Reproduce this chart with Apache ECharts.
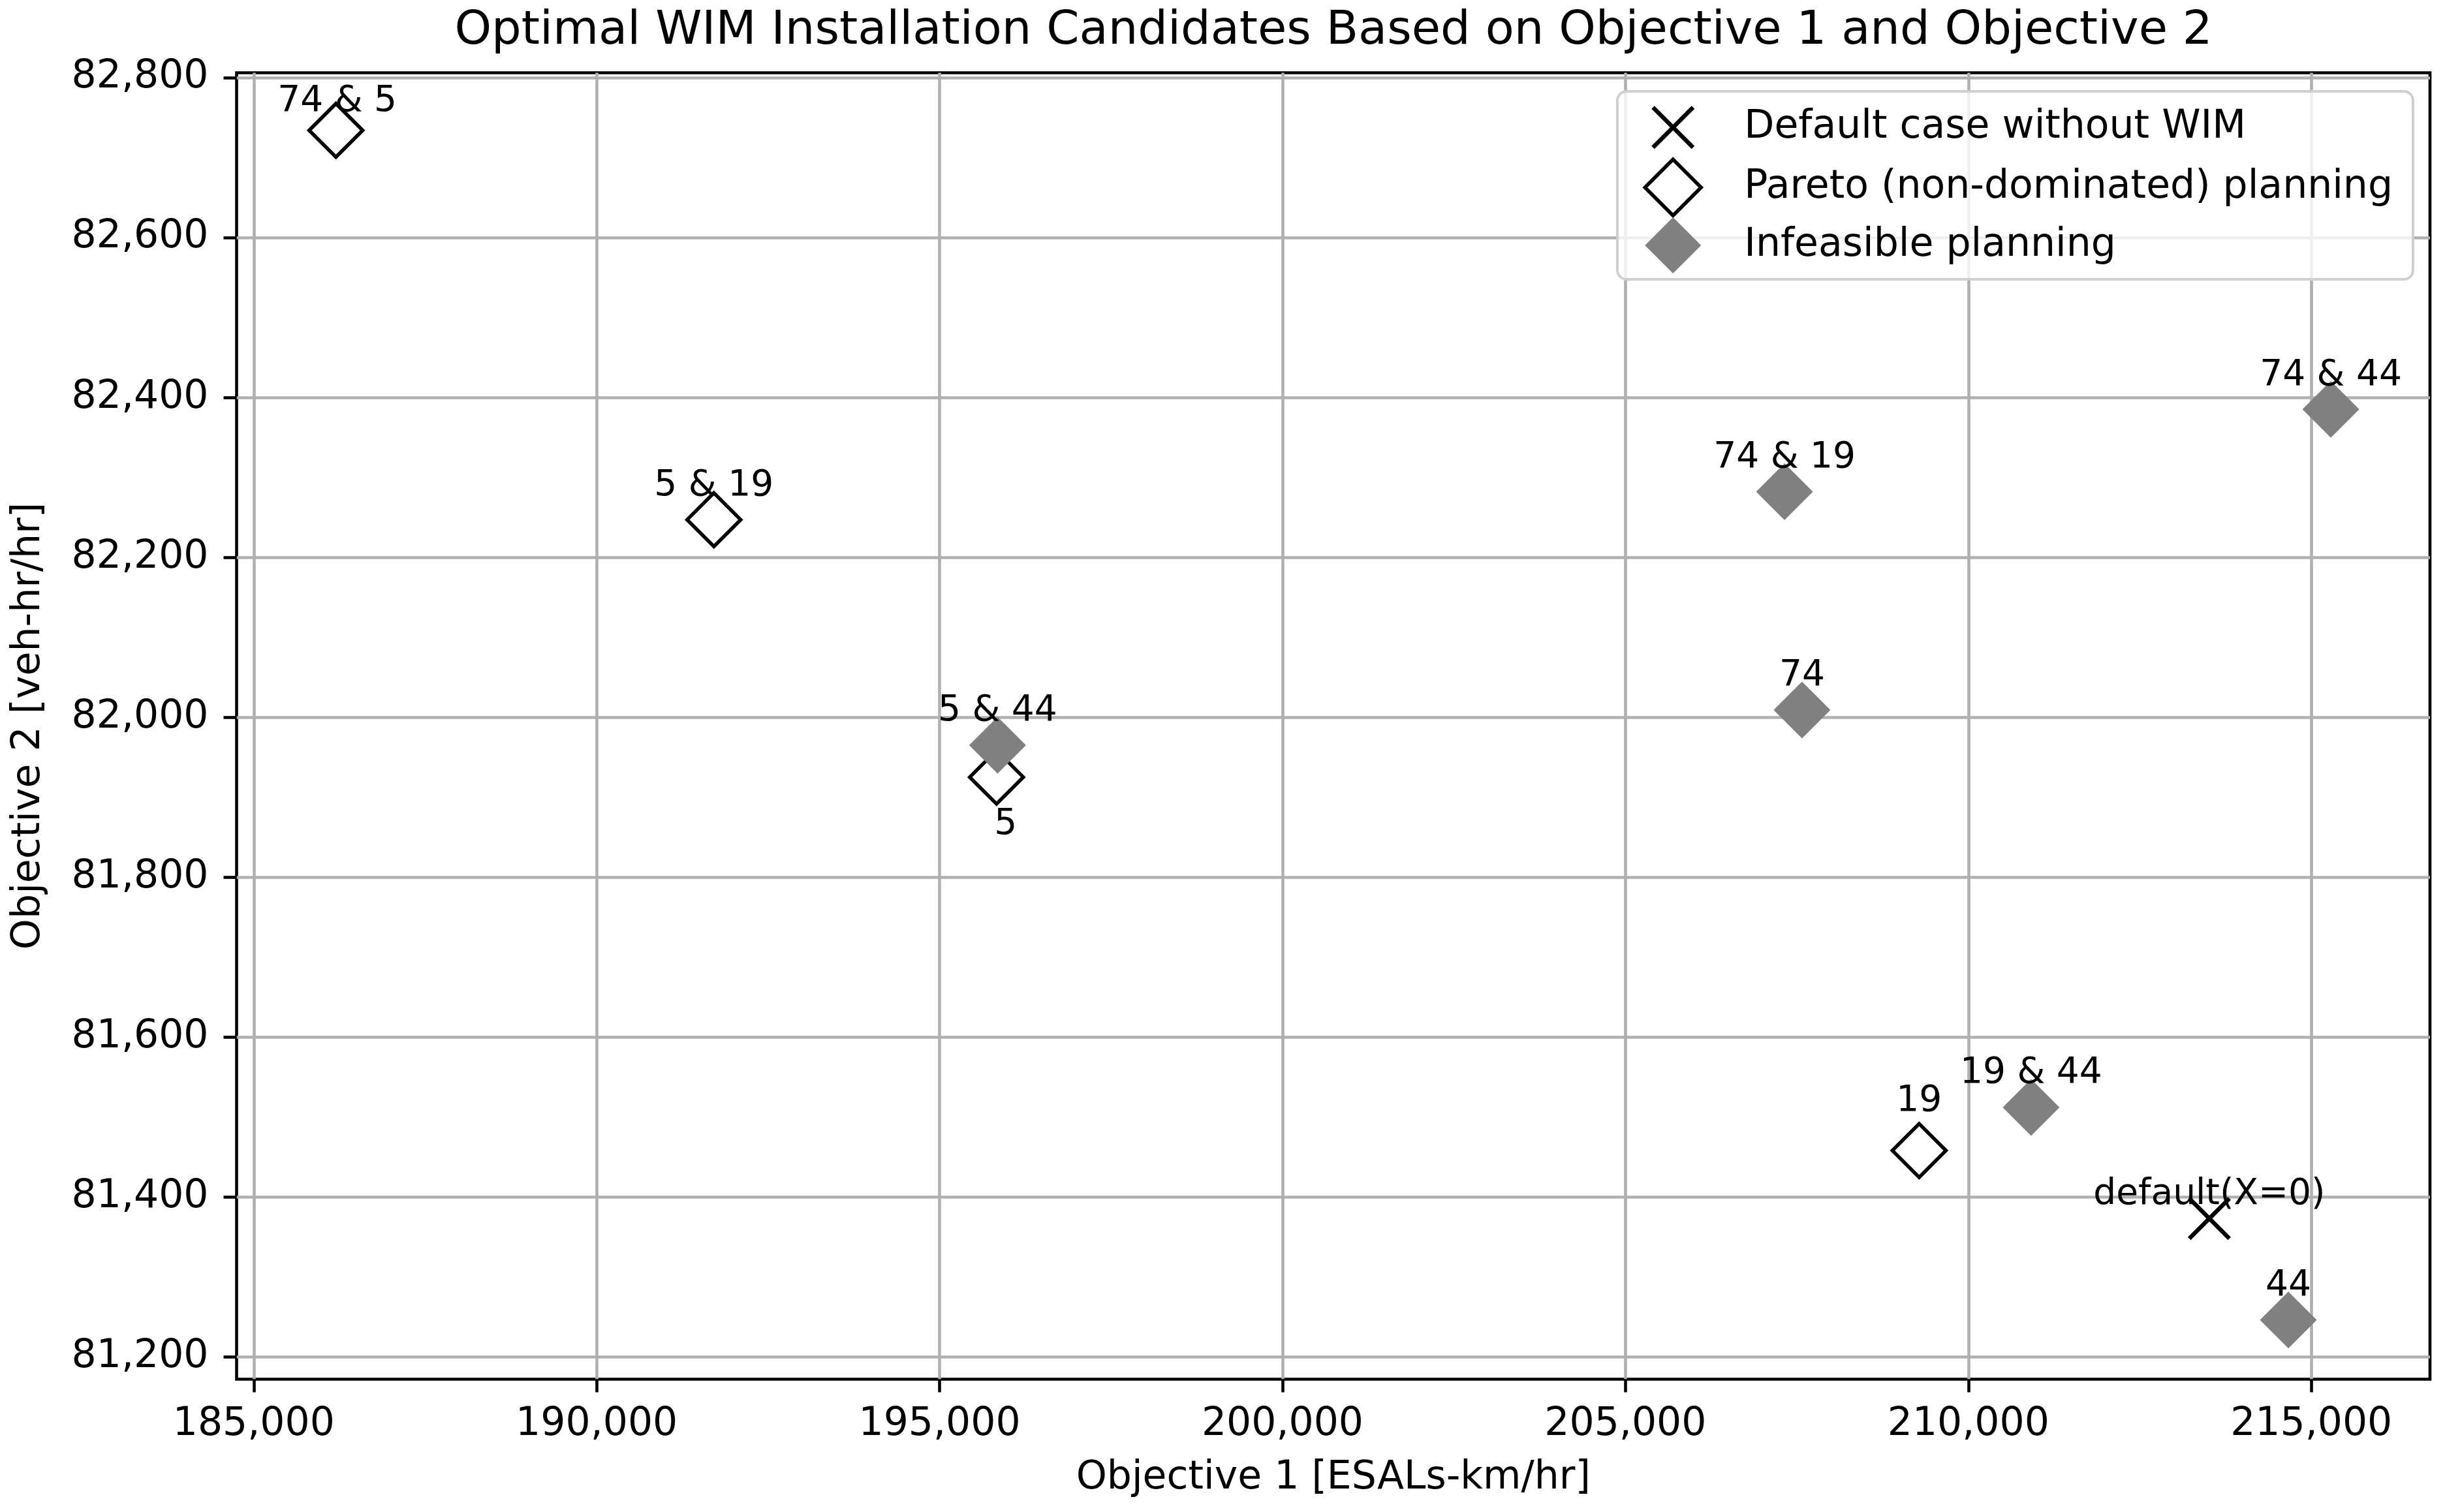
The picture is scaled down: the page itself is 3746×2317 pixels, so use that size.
<!DOCTYPE html>
<html>
<head>
<meta charset="utf-8">
<script src="https://cdn.jsdelivr.net/npm/echarts@6/dist/echarts.min.js"></script>
<style>
html,body{margin:0;padding:0;background:#fff;}
#chart{width:3746px;height:2317px;}
</style>
</head>
<body>
<div id="chart"></div>
<script>
// ---- data ----
const defaultLabels = ['default(X=0)'];
const defaultX = [213513];
const defaultY = [81373];

const paretoLabels = ['74 & 5', '5 & 19', '5', '19'];
const paretoX = [186198, 191709, 195830, 209282];
const paretoY = [82734, 82247, 81925, 81458];

const infeasibleLabels = ['5 & 44', '74 & 19', '74', '74 & 44', '19 & 44', '44'];
const infeasibleX = [195845, 207319, 207574, 215284, 210914, 214665];
const infeasibleY = [81965, 82282, 82009, 82385, 81512, 81246];

const xTicks = [185000, 190000, 195000, 200000, 205000, 210000, 215000];
const yTicks = [81200, 81400, 81600, 81800, 82000, 82200, 82400, 82600, 82800];

const seriesNames = ['Default case without WIM', 'Pareto (non-dominated) planning', 'Infeasible planning'];

// ---- styling ----
const FONT = 'DejaVu Sans';
const FS = 60;
const LABEL_FS = 55;
const defaultLabelOffset = [0, -52];
const labelOffsets = {
  '74 & 5': [2, -44],
  '5': [14, 73],
  '19': [0, -75],
  'default(X=0)': [0, -37]
};
const xPath = 'path://M-4,-4M24,24M0,0L20,20M20,0L0,20';

function fmt(v) { return Number(v).toLocaleString('en-US'); }

function buildData(labels, xs, ys) {
  return labels.map(function (name, i) {
    return {
      name: name,
      value: [xs[i], ys[i]],
      label: { offset: labelOffsets[name] || defaultLabelOffset }
    };
  });
}

const labelStyle = {
  show: true,
  position: 'inside',
  formatter: '{b}',
  color: '#000',
  opacity: 1,
  fontFamily: FONT,
  fontSize: LABEL_FS
};

const chart = echarts.init(document.getElementById('chart'), null, { renderer: 'canvas' });

const axisCommon = {
  type: 'value',
  axisLine: { show: false },
  axisTick: { show: true, inside: false, length: 20, lineStyle: { color: '#000', width: 4.6 } },
  splitLine: { show: true, lineStyle: { color: '#b0b0b0', width: 4.6 } },
  nameLocation: 'middle',
  nameTextStyle: { color: '#000', fontFamily: FONT, fontSize: FS }
};

chart.setOption({
  animation: false,
  backgroundColor: '#fff',
  textStyle: { fontFamily: FONT },
  title: {
    text: 'Optimal WIM Installation Candidates Based on Objective 1 and Objective 2',
    left: 2043,
    top: 12,
    padding: 0,
    textAlign: 'center',
    textStyle: { color: '#000', fontFamily: FONT, fontSize: 72, fontWeight: 'normal' }
  },
  grid: {
    left: 362.5, right: 23, top: 111.5, bottom: 203.5,
    show: true, borderColor: '#000', borderWidth: 4.6, backgroundColor: 'rgba(0,0,0,0)',
    containLabel: false
  },
  xAxis: Object.assign({}, axisCommon, {
    min: 184750, max: 216730,
    name: 'Objective 1 [ESALs-km/hr]',
    nameGap: 122,
    axisTick: Object.assign({}, axisCommon.axisTick, { customValues: xTicks }),
    axisLabel: { customValues: xTicks, formatter: fmt, margin: 40, color: '#000', fontFamily: FONT, fontSize: FS }
  }),
  yAxis: Object.assign({}, axisCommon, {
    min: 81172, max: 82806,
    name: 'Objective 2 [veh-hr/hr]',
    nameGap: 288,
    nameRotate: 90,
    axisTick: Object.assign({}, axisCommon.axisTick, { customValues: yTicks }),
    axisLabel: { customValues: yTicks, formatter: fmt, margin: 43, color: '#000', fontFamily: FONT, fontSize: FS }
  }),
  legend: {
    orient: 'vertical',
    left: 2478,
    top: 140,
    padding: [9, 31, 9, 39],
    itemWidth: 86,
    itemHeight: 86,
    itemGap: 0,
    itemStyle: { borderWidth: 'inherit' },
    backgroundColor: 'rgba(255,255,255,0.8)',
    borderColor: '#d0d0d0',
    borderWidth: 4,
    borderRadius: 14,
    textStyle: { color: '#000', fontFamily: FONT, fontSize: FS, padding: [0, 0, 0, 61] },
    data: seriesNames
  },
  series: [
    {
      name: seriesNames[0],
      type: 'scatter',
      symbol: xPath,
      symbolSize: 86,
      itemStyle: { color: 'rgba(0,0,0,0)', borderColor: '#000', borderWidth: 6.5, opacity: 1 },
      label: labelStyle,
      data: buildData(defaultLabels, defaultX, defaultY),
      z: 3
    },
    {
      name: seriesNames[1],
      type: 'scatter',
      symbol: 'diamond',
      symbolSize: 82,
      itemStyle: { color: 'rgba(255,255,255,0)', borderColor: '#000', borderWidth: 5.5, opacity: 1 },
      label: labelStyle,
      data: buildData(paretoLabels, paretoX, paretoY),
      z: 4
    },
    {
      name: seriesNames[2],
      type: 'scatter',
      symbol: 'diamond',
      symbolSize: 87,
      itemStyle: { color: '#808080', borderWidth: 0, opacity: 1 },
      label: labelStyle,
      data: buildData(infeasibleLabels, infeasibleX, infeasibleY),
      z: 5
    }
  ]
});
</script>
</body>
</html>
